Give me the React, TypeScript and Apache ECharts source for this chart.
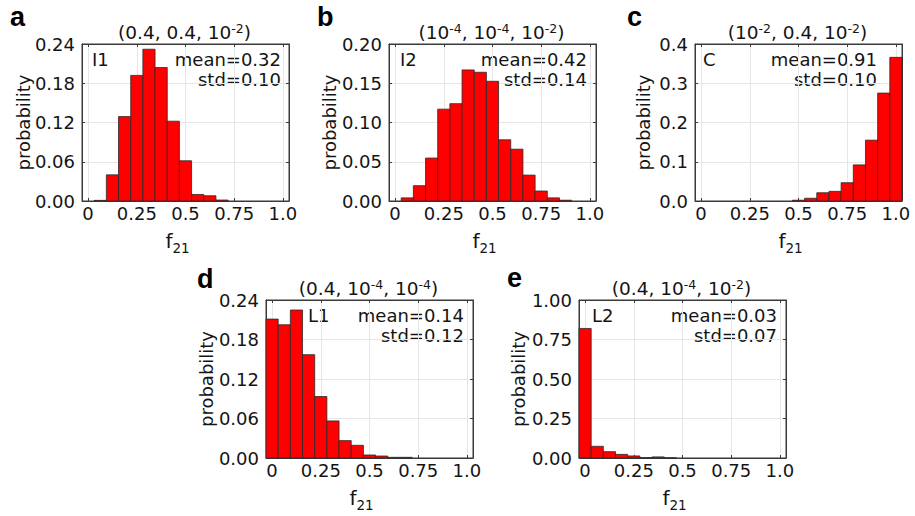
import React, { useEffect, useRef } from 'react';
import * as echarts from 'echarts';

// ---- data ----
const binCenters = [0, 0.0625, 0.125, 0.1875, 0.25, 0.3125, 0.375, 0.4375, 0.5, 0.5625, 0.625, 0.6875, 0.75, 0.8125, 0.875, 0.9375, 1];
const BIN_WIDTH = 0.0625;

const probA = [0, 0.001, 0.040, 0.129, 0.192, 0.232, 0.204, 0.122, 0.0615, 0.010, 0.008, 0.0015, 0, 0, 0, 0, 0];
const probB = [0, 0.004, 0.0195, 0.0547, 0.117, 0.124, 0.167, 0.164, 0.1525, 0.078, 0.066, 0.033, 0.0127, 0.004, 0.001, 0, 0];
const probC = [0, 0, 0, 0, 0, 0, 0, 0, 0.002, 0.007, 0.021, 0.0246, 0.0466, 0.092, 0.155, 0.275, 0.366];
const probD = [0.211, 0.2024, 0.2248, 0.157, 0.0934, 0.0563, 0.0264, 0.0193, 0.0046, 0.003, 0.001, 0.001, 0, 0, 0, 0, 0];
const probE = [0.82, 0.074, 0.040, 0.023, 0.013, 0.002, 0.007, 0.001, 0, 0, 0, 0, 0, 0, 0, 0, 0];

const xTicks = [0, 0.25, 0.5, 0.75, 1];
const xTickLabels = ['0', '0.25', '0.5', '0.75', '1.0'];

const titles = ['(0.4, 0.4, 10^{-2})', '(10^{-4}, 10^{-4}, 10^{-2})', '(10^{-2}, 0.4, 10^{-2})', '(0.4, 10^{-4}, 10^{-4})', '(0.4, 10^{-4}, 10^{-2})'];
const letters = ['a', 'b', 'c', 'd', 'e'];
const tags = ['I1', 'I2', 'C', 'L1', 'L2'];
const means = ['0.32', '0.42', '0.91', '0.14', '0.03'];
const stds = ['0.10', '0.14', '0.10', '0.12', '0.07'];
const yMaxes = [0.24, 0.2, 0.4, 0.24, 1.0];
const yIntervals = [0.06, 0.05, 0.1, 0.06, 0.25];
const yDecimals = [2, 2, 1, 2, 2];
const probs = [probA, probB, probC, probD, probE];

// ---- layout ----
const layout = [
  { left: 82, top: 44, width: 207, height: 157, letterX: 10, letterB: 26, tagX: 92, statInset: 8, yGap: 59 },
  { left: 389, top: 44, width: 207, height: 157, letterX: 317, letterB: 26, tagX: 400, statInset: 9, yGap: 60 },
  { left: 695, top: 44, width: 207, height: 157, letterX: 627, letterB: 26, tagX: 703, statInset: 25, yGap: 52 },
  { left: 266, top: 300, width: 207, height: 158, letterX: 197, letterB: 288, tagX: 308, statInset: 9, yGap: 60 },
  { left: 579, top: 300, width: 207, height: 158, letterX: 507, letterB: 287, tagX: 592, statInset: 9, yGap: 61 },
];

const X_MIN = -0.03125;
const X_MAX = 1.03125;
const FONT = 'DejaVu Sans';
const FS = 18;
const TFS = 18.5;
const TEXT = '#141414';
const AXIS = '#3a3a3a';
const GRIDC = '#e6e6e6';

function toRich(s: string) {
  return '{n|' + s.replace(/\^\{([^}]*)\}/g, '}{s|$1}{n|') + '}';
}

function buildOption() {
  const grid: any[] = [];
  const xAxis: any[] = [];
  const yAxis: any[] = [];
  const series: any[] = [];
  const graphic: any[] = [];

  layout.forEach((L, i) => {
    grid.push({ left: L.left, top: L.top, width: L.width, height: L.height, show: true, borderColor: AXIS, borderWidth: 1 });
    const xBase = {
      gridIndex: i, type: 'value', min: X_MIN, max: X_MAX,
      axisLine: { show: true, onZero: false, lineStyle: { color: AXIS, width: 1 } },
      axisTick: { show: true, inside: true, length: 3, customValues: xTicks, lineStyle: { color: AXIS } },
    };
    xAxis.push({
      ...xBase, position: 'bottom',
      axisLabel: {
        show: true, customValues: xTicks, margin: 3, fontFamily: FONT, fontSize: FS, color: TEXT,
        formatter: (v: number) => { const k = xTicks.findIndex((t) => Math.abs(t - v) < 1e-9); return k >= 0 ? xTickLabels[k] : ''; },
      },
      splitLine: { show: true, lineStyle: { color: GRIDC, width: 1 } },
    });
    xAxis.push({ ...xBase, position: 'top', axisLabel: { show: false }, splitLine: { show: false } });
    const yBase = {
      gridIndex: i, type: 'value', min: 0, max: yMaxes[i], interval: yIntervals[i],
      axisLine: { show: true, onZero: false, lineStyle: { color: AXIS, width: 1 } },
      axisTick: { show: true, inside: true, length: 3, lineStyle: { color: AXIS } },
    };
    yAxis.push({
      ...yBase, position: 'left',
      axisLabel: { show: true, margin: 7, fontFamily: FONT, fontSize: FS, color: TEXT, formatter: (v: number) => v.toFixed(yDecimals[i]) },
      splitLine: { show: true, lineStyle: { color: GRIDC, width: 1 } },
    });
    yAxis.push({ ...yBase, position: 'right', axisLabel: { show: false }, splitLine: { show: false } });

    series.push({
      type: 'custom', xAxisIndex: 2 * i, yAxisIndex: 2 * i,
      data: binCenters.map((c, k) => [c, probs[i][k]]),
      encode: { x: 0, y: 1 },
      renderItem: (params: any, api: any) => {
        const c = api.value(0);
        const h = api.value(1);
        if (!h) return null;
        const lt = api.coord([c - BIN_WIDTH / 2, h]);
        const rb = api.coord([c + BIN_WIDTH / 2, 0]);
        return {
          type: 'rect',
          shape: { x: lt[0], y: lt[1], width: rb[0] - lt[0], height: rb[1] - lt[1] },
          style: { fill: '#ff0000', stroke: '#2a2a2a', lineWidth: 0.8 },
        };
      },
    });

    const right = L.left + L.width;
    const bottom = L.top + L.height;
    const cx = L.left + L.width / 2;
    // panel letter
    graphic.push({ type: 'text', x: L.letterX, y: L.letterB - 0.346 * 27, style: { text: letters[i], fontFamily: 'Liberation Sans', fontWeight: 'bold', fontSize: 27, fill: '#000', align: 'left', verticalAlign: 'middle' } });
    // title
    graphic.push({
      type: 'text', x: cx - 1, y: L.top - 5 - 0.346 * TFS,
      style: {
        text: toRich(titles[i]), align: 'center', verticalAlign: 'middle', fontFamily: FONT, fontSize: TFS, fill: TEXT,
        rich: {
          n: { fontFamily: FONT, fontSize: TFS, lineHeight: 22, fill: TEXT },
          s: { fontFamily: FONT, fontSize: 12.5, lineHeight: 12, verticalAlign: 'top', fill: TEXT },
        },
      },
    });
    // tag
    graphic.push({ type: 'text', x: L.tagX, y: L.top + 22 - 0.346 * FS, style: { text: tags[i], fontFamily: FONT, fontSize: FS, fill: TEXT, align: 'left', verticalAlign: 'middle' } });
    // stats
    graphic.push({ type: 'text', x: right - L.statInset, y: L.top + 21.5 - 0.346 * FS, style: { text: 'mean=' + means[i], fontFamily: FONT, fontSize: FS, fill: TEXT, align: 'right', verticalAlign: 'middle' } });
    graphic.push({ type: 'text', x: right - L.statInset, y: L.top + 41.5 - 0.346 * FS, style: { text: 'std=' + stds[i], fontFamily: FONT, fontSize: FS, fill: TEXT, align: 'right', verticalAlign: 'middle' } });
    // y label
    graphic.push({ type: 'text', x: L.left - L.yGap, y: L.top + L.height / 2, rotation: Math.PI / 2, style: { text: 'probability', fontFamily: FONT, fontSize: FS, fill: TEXT, align: 'center', verticalAlign: 'middle' } });
    // x label
    graphic.push({
      type: 'text', x: cx - 8, y: bottom + 47 - 6.9,
      style: {
        text: '{f|f}{b|21}', align: 'center', verticalAlign: 'middle', fontFamily: FONT, fontSize: 20, fill: TEXT,
        rich: {
          f: { fontFamily: FONT, fontSize: 20, lineHeight: 28, fill: TEXT },
          b: { fontFamily: FONT, fontSize: 13.5, lineHeight: 13, verticalAlign: 'bottom', fill: TEXT },
        },
      },
    });
  });

  return { animation: false, backgroundColor: '#fff', grid, xAxis, yAxis, series, graphic };
}

export default function App() {
  const ref = useRef<HTMLDivElement>(null);
  useEffect(() => {
    const chart = echarts.init(ref.current!, null, { renderer: 'svg' });
    chart.setOption(buildOption() as any);
    return () => chart.dispose();
  }, []);
  return <div ref={ref} style={{ position: 'fixed', left: 0, top: 0, width: 915, height: 516, background: '#fff' }} />;
}
